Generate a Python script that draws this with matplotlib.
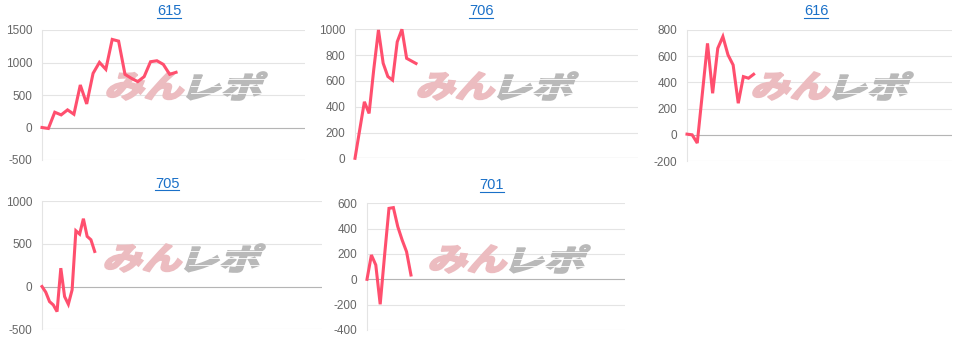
import matplotlib
matplotlib.use("Agg")
import matplotlib.pyplot as plt
from matplotlib.font_manager import FontProperties
from matplotlib.textpath import TextPath
from matplotlib.patches import PathPatch
from matplotlib.transforms import Affine2D
from matplotlib.lines import Line2D

W, H = 964, 340

# panel titles (machine numbers)
titles = ["615", "706", "616", "705", "701"]

# cumulative balance per panel
vals_615 = [0, -15, 235, 194, 271, 204, 654, 363, 833, 1002, 895, 1355, 1329,
            818, 757, 706, 782, 1012, 1027, 971, 818, 849]
vals_706 = [0, 220, 438, 348, 690, 995, 737, 634, 606, 903, 1000, 775, 755, 735]
vals_616 = [5, 0, -63, 317, 698, 317, 660, 750, 610, 533, 241, 444, 432, 462]
vals_705 = [0, -66, -176, -215, -293, 215, -117, -207, -39, 652, 613, 793, 586,
            547, 410]
vals_701 = [0, 192, 113, -197, 190, 560, 566, 416, 310, 218, 34]

series = [vals_615, vals_706, vals_616, vals_705, vals_701]

# x-axis capacity of each panel (in data steps) and y ticks
x_max = [41.2, 60.3, 51.7, 74.4, 58.7]
y_ticks = [
    [-500, 0, 500, 1000, 1500],
    [0, 200, 400, 600, 800, 1000],
    [-200, 0, 200, 400, 600, 800],
    [-500, 0, 500, 1000],
    [-400, -200, 0, 200, 400, 600],
]

# pixel boxes: left, right, top, bottom
boxes = [
    (42, 305, 30, 160),
    (355, 638, 29.3, 158.3),
    (687, 952, 30, 161),
    (42, 322, 201, 329.3),
    (367, 625, 203.3, 330),
]
title_pos = [(169, 11), (481, 11), (816, 11), (167, 183.5), (492, 185)]
logo_pos = [(107, 72), (418, 72), (753, 72), (105, 244), (430, 245)]

LINE = "#ff4f6e"
TICK_FONT = "Liberation Sans"

fig = plt.figure(figsize=(W / 100, H / 100), dpi=100)
px = Affine2D().scale(1 / W, 1 / H) + fig.transFigure

jp = FontProperties(family="Noto Sans CJK JP", weight="black")


def glyph_patch(text, x0, x1, top, bottom, color):
    tp = TextPath((0, 0), text, size=100, prop=jp)
    path = Affine2D().skew_deg(14, 0).transform_path(tp)
    bb = path.get_extents()
    y0 = H - bottom
    fit = (Affine2D().translate(-bb.x0, -bb.y0)
           .scale((x1 - x0) / bb.width, (bottom - top) / bb.height)
           .translate(x0, y0))
    return PathPatch(fit.transform_path(path), transform=px, facecolor=color,
                     edgecolor=color, lw=1.2, zorder=1.2, clip_on=False)


def add_logo(ax, left, top):
    ax.add_patch(glyph_patch("みん", left, left + 77, top, top + 28, "#ecbcc0"))
    ax.add_patch(glyph_patch("レポ", left + 80, left + 160, top, top + 28, "#b9b9b9"))
    for k in range(1, 4):
        yy = top + 7 * k
        ax.add_line(Line2D([left + 84, left + 160], [H - yy, H - yy],
                           transform=px, color="white", lw=0.6, zorder=1.3,
                           clip_on=False))


for i, vals in enumerate(series):
    l, r, t, b = boxes[i]
    ax = fig.add_axes([l / W, 1 - b / H, (r - l) / W, (b - t) / H])
    ax.plot(range(len(vals)), vals, color=LINE, lw=2.2, zorder=3,
            solid_joinstyle="miter", clip_on=False)
    ax.set_xlim(0, x_max[i])
    ax.set_ylim(y_ticks[i][0], y_ticks[i][-1])
    ax.set_yticks(y_ticks[i])
    ax.set_yticklabels([str(v) for v in y_ticks[i]], fontfamily=TICK_FONT,
                       fontsize=8.5, color="#666666")
    ax.set_xticks([])
    ax.tick_params(axis="y", length=0, pad=7)
    ax.grid(axis="y", color="#e4e4e4", lw=0.8)
    ax.set_axisbelow(True)
    ax.axhline(0, color="#b5b5b5", lw=0.8, zorder=1.5)
    for side in ("top", "right", "bottom"):
        ax.spines[side].set_visible(False)
    ax.spines["left"].set_color("#e4e4e4")
    ax.spines["left"].set_linewidth(0.8)
    add_logo(ax, *logo_pos[i])

    tx, ty = title_pos[i]
    fig.text(tx / W, 1 - ty / H, titles[i], ha="center", va="center",
             fontsize=10.5, color="#1a70c8", fontfamily=TICK_FONT)

renderer = fig.canvas.get_renderer()
for i, tx_obj in enumerate(fig.texts):
    bb = tx_obj.get_window_extent(renderer)
    ty = title_pos[i][1] + 6.5
    fig.add_artist(Line2D([bb.x0 / W, bb.x1 / W], [1 - ty / H, 1 - ty / H],
                          transform=fig.transFigure, color="#1a70c8", lw=0.8))

fig.savefig("out.png", dpi=100)
plt.close(fig)
